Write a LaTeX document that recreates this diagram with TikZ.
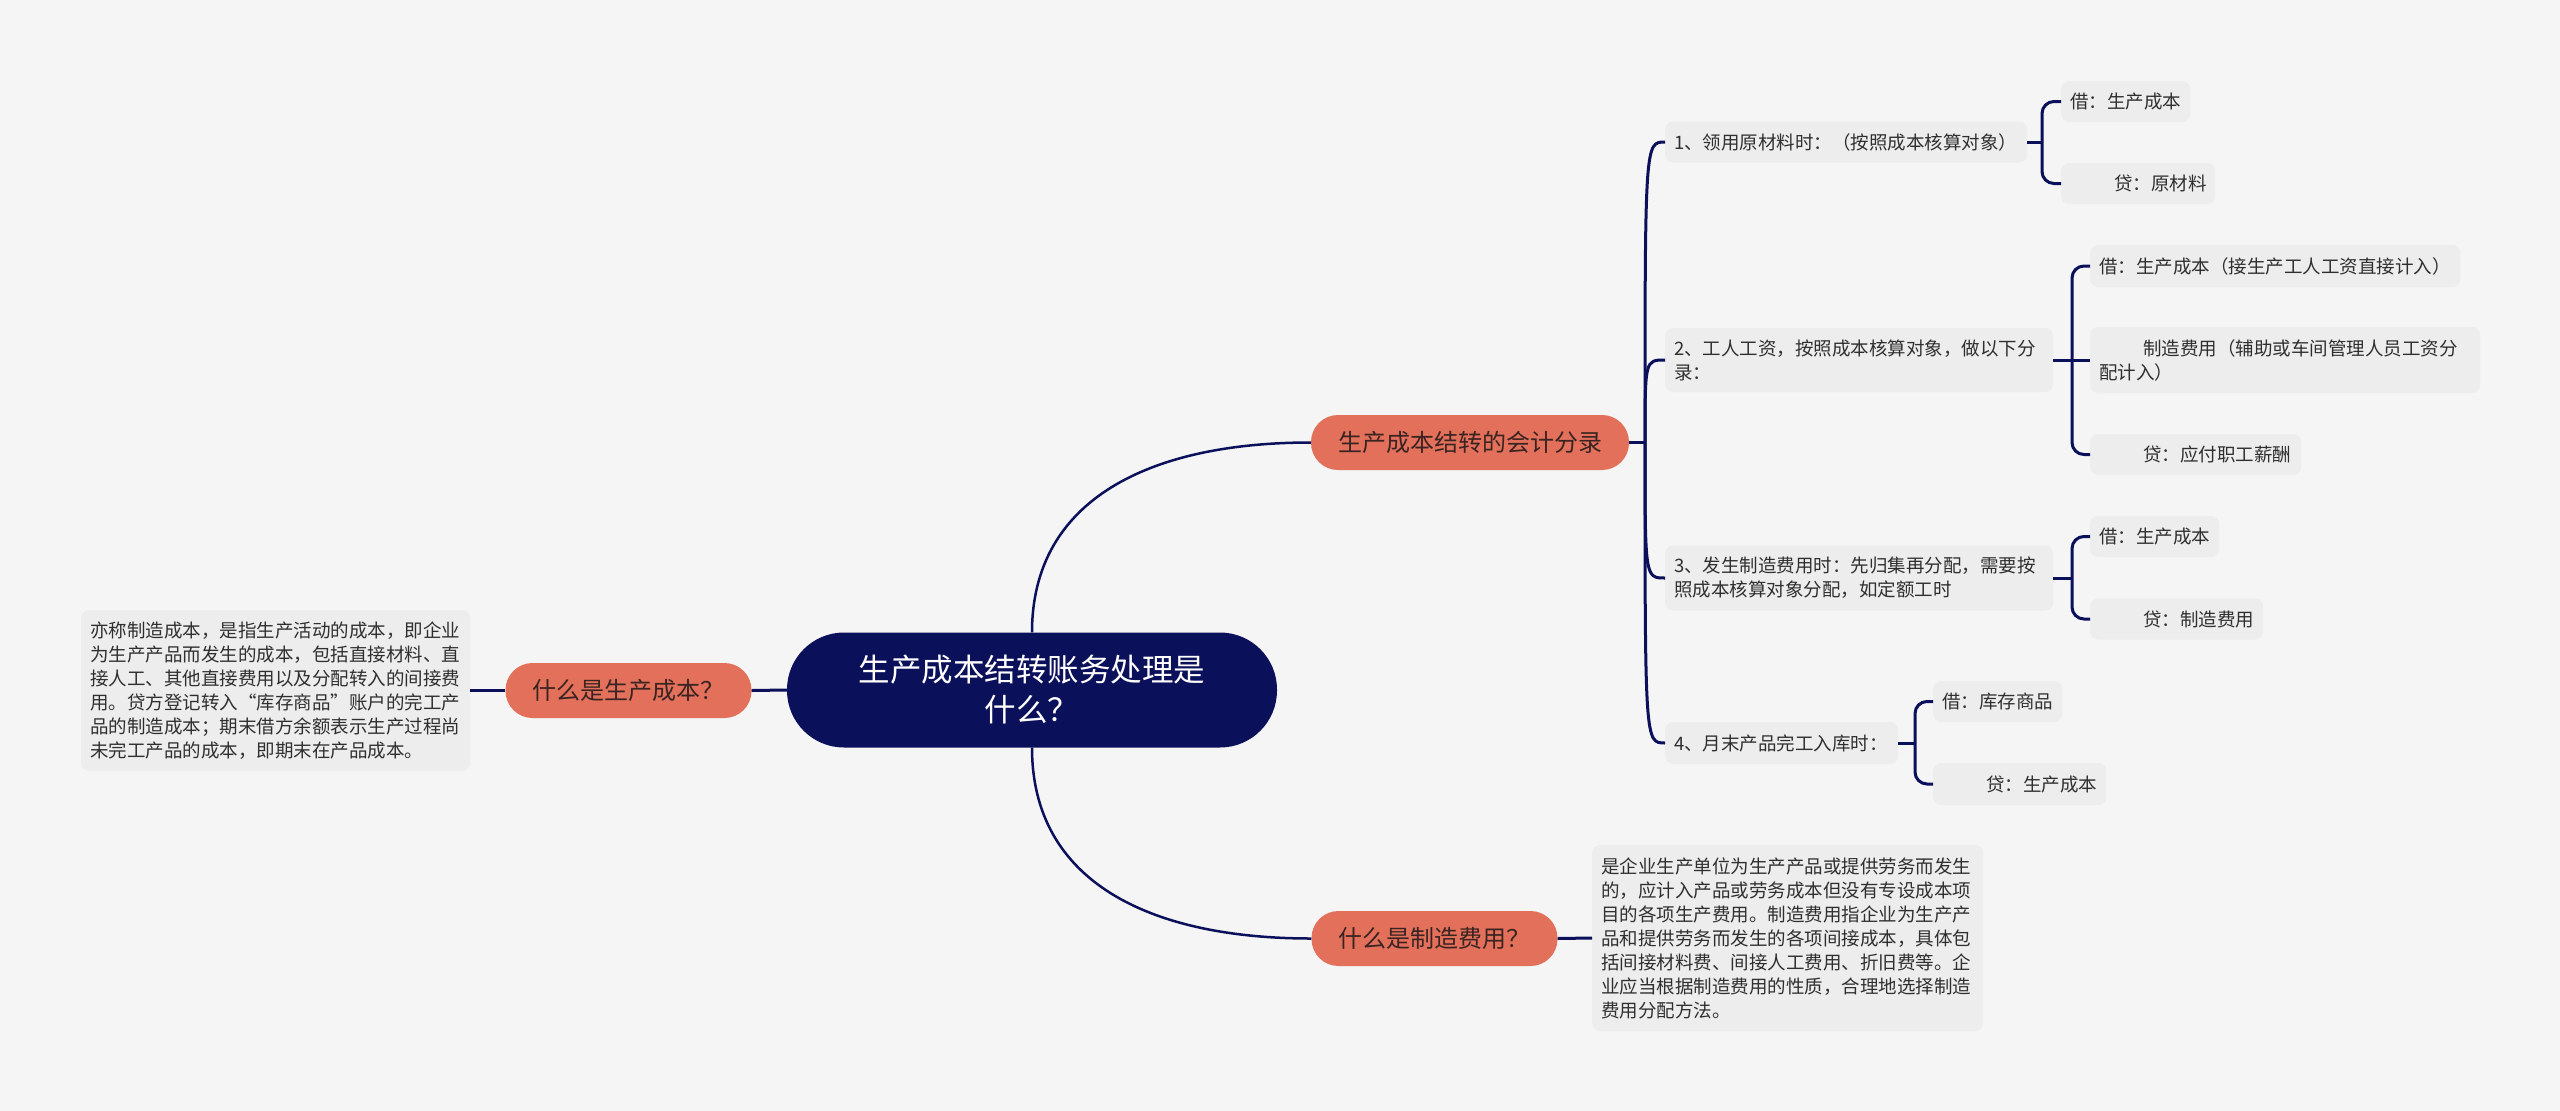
\documentclass[tikz,border=0pt]{standalone}
\usepackage{fontspec}
\newfontfamily\cjk{Noto Sans CJK SC}
\definecolor{bgc}{HTML}{F5F5F5}
\definecolor{navy}{HTML}{0B105A}
\definecolor{salmon}{HTML}{E2705A}
\definecolor{btxt}{HTML}{3A2422}
\definecolor{leafc}{HTML}{EDEDED}
\definecolor{ltxt}{HTML}{2F2F2F}
\begin{document}
\begin{tikzpicture}[x=1pt,y=-1pt,
  rootnode/.style={fill=navy,text=white,rounded corners=57pt,minimum width=490pt,minimum height=115pt,align=center,inner sep=0pt,font=\cjk\fontsize{31.5}{40}\selectfont},
  branchnode/.style={fill=salmon,text=btxt,rounded corners=27pt,minimum height=55pt,inner xsep=27pt,inner ysep=0pt,font=\cjk\fontsize{24}{30}\selectfont},
  leafnode/.style={fill=leafc,text=ltxt,rounded corners=8pt,inner xsep=9pt,inner ysep=0pt,align=left,anchor=west,font=\cjk\fontsize{18.5}{24}\selectfont},
  link/.style={draw=navy,line width=3pt},
  curvelink/.style={draw=navy,line width=2.5pt},
  bracket/.style={draw=navy,line width=3pt,rounded corners=12pt}]
\fill[bgc] (0,0) rectangle (2560,1111);
\useasboundingbox (0,0) rectangle (2560,1111);

% root and main branches
\node[rootnode] (c) at (1032,690) {生产成本结转账务处理是\\什么？};
\node[branchnode] (b1) at (1470,442.5) {生产成本结转的会计分录};
\node[branchnode] (b2) at (1434.5,938.5) {什么是制造费用？};
\node[branchnode] (b3) at (628.5,690.5) {什么是生产成本？};

% description boxes
\node[leafnode,text width=371pt,minimum height=161pt] (t3) at (81,690.5) {亦称制造成本，是指生产活动的成本，即企业\\为生产产品而发生的成本，包括直接材料、直\\接人工、其他直接费用以及分配转入的间接费\\用。贷方登记转入“库存商品”账户的完工产\\品的制造成本；期末借方余额表示生产过程尚\\未完工产品的成本，即期末在产品成本。};
\node[leafnode,text width=373pt,minimum height=186pt] (t2) at (1592,938) {是企业生产单位为生产产品或提供劳务而发生\\的，应计入产品或劳务成本但没有专设成本项\\目的各项生产费用。制造费用指企业为生产产\\品和提供劳务而发生的各项间接成本，具体包\\括间接材料费、间接人工费用、折旧费等。企\\业应当根据制造费用的性质，合理地选择制造\\费用分配方法。};

% children of b1
\node[leafnode,text width=344pt,minimum height=41pt] (k1) at (1665,142) {1、领用原材料时：（按照成本核算对象）};
\node[leafnode,text width=370pt,minimum height=64pt] (k2) at (1665,360) {2、工人工资，按照成本核算对象，做以下分\\录：};
\node[leafnode,text width=370pt,minimum height=65pt] (k3) at (1665,578) {3、发生制造费用时：先归集再分配，需要按\\照成本核算对象分配，如定额工时};
\node[leafnode,text width=215pt,minimum height=42pt] (k4) at (1665,743) {4、月末产品完工入库时：};

% grandchildren
\node[leafnode,text width=111pt,minimum height=41pt] (g1a) at (2061,101.5) {借：生产成本};
\node[leafnode,text width=136pt,minimum height=41pt] (g1b) at (2061,183.5) {\hspace*{44pt}贷：原材料};
\node[leafnode,text width=352pt,minimum height=42pt] (g2a) at (2090,266) {借：生产成本（接生产工人工资直接计入）};
\node[leafnode,text width=372pt,minimum height=66pt] (g2b) at (2090,360) {\hspace*{44pt}制造费用（辅助或车间管理人员工资分\\配计入）};
\node[leafnode,text width=193pt,minimum height=41pt] (g2c) at (2090,454.5) {\hspace*{44pt}贷：应付职工薪酬};
\node[leafnode,text width=111pt,minimum height=41pt] (g3a) at (2090,536.5) {借：生产成本};
\node[leafnode,text width=155pt,minimum height=41pt] (g3b) at (2090,619) {\hspace*{44pt}贷：制造费用};
\node[leafnode,text width=111pt,minimum height=41pt] (g4a) at (1933,701.5) {借：库存商品};
\node[leafnode,text width=155pt,minimum height=42pt] (g4b) at (1933,784) {\hspace*{44pt}贷：生产成本};

% root connectors
\draw[curvelink] (c.north) .. controls +(0,-133) and +(-161,0) .. (b1.west);
\draw[curvelink] (c.south) .. controls +(0,134) and +(-162,0) .. (b2.west);
\draw[link] (c.west) -- (b3.east);
\draw[link] (b3.west) -- (t3.east);
\draw[link] (b2.east) -- (t2.west);

% trunk from b1
\coordinate (tr) at (1645,442.5);
\draw[link] (b1.east) -- (tr);
\foreach \k in {k1,k2,k3,k4}{
  \draw[link] (tr) .. controls (tr|-\k.west) .. (\k.west);
}

% brackets
\coordinate (j1) at (2042,142);
\coordinate (j2) at (2072,360);
\coordinate (j3) at (2072,578);
\coordinate (j4) at (1915,743);
\draw[link] (k1.east) -- (j1);
\draw[link] (k2.east) -- (j2);
\draw[link] (k3.east) -- (j3);
\draw[link] (k4.east) -- (j4);
\draw[bracket] (j1) |- (g1a.west);
\draw[bracket] (j1) |- (g1b.west);
\draw[bracket] (j2) |- (g2a.west);
\draw[bracket] (j2) -- (g2b.west);
\draw[bracket] (j2) |- (g2c.west);
\draw[bracket] (j3) |- (g3a.west);
\draw[bracket] (j3) |- (g3b.west);
\draw[bracket] (j4) |- (g4a.west);
\draw[bracket] (j4) |- (g4b.west);
\end{tikzpicture}
\end{document}
